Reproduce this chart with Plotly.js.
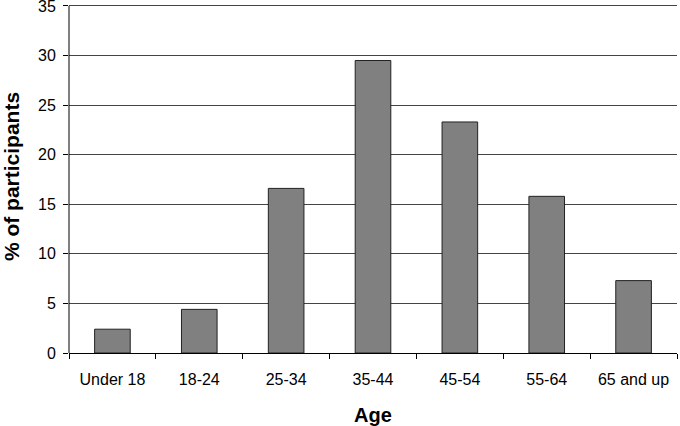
<!DOCTYPE html>
<html><head><meta charset="utf-8">
<script src="https://cdn.plot.ly/plotly-3.0.1.min.js"></script>
<style>body{margin:0;background:#fff}#c{width:680px;height:426px}</style>
</head><body><div id="c"></div>
<script>
const categories = ["Under 18","18-24","25-34","35-44","45-54","55-64","65 and up"];
const percentParticipants = [2.4, 4.4, 16.6, 29.5, 23.3, 15.8, 7.3];
const yTicks = [0,5,10,15,20,25,30,35];

Plotly.newPlot('c', [{
  type: 'bar', x: categories, y: percentParticipants,
  marker: {color: '#808080', line: {color: '#222', width: 1}},
  hoverinfo: 'none'
}], {
  width: 680, height: 426,
  margin: {l: 69, r: 3, t: 0, b: 73},
  paper_bgcolor: '#fff', plot_bgcolor: '#fff',
  bargap: 0.59,
  font: {family: 'Liberation Sans, Arial, sans-serif', color: '#000', size: 16},
  xaxis: {
    title: {text: '<b>Age</b>', font: {size: 20}},
    showline: true, linecolor: '#000', linewidth: 1,
    ticks: 'outside', tickson: 'boundaries', ticklen: 5, tickcolor: '#000',
    ticklabelstandoff: 12,
    showgrid: false
  },
  yaxis: {
    title: {text: '<b>% of participants</b>', font: {size: 21}},
    range: [0, 35.6], autorange: false, tickmode: 'array', tickvals: yTicks,
    ticklabeloverflow: 'allow',
    showline: false,
    ticks: 'outside', ticklen: 5, tickcolor: '#000',
    ticklabelstandoff: 4,
    showgrid: true, gridcolor: '#444', gridwidth: 1,
    zeroline: false
  },
  shapes: [{type: 'line', xref: 'paper', yref: 'y', x0: 0, x1: 0, y0: 0, y1: yTicks[yTicks.length - 1],
            line: {color: '#000', width: 1}}],
  showlegend: false
}, {staticPlot: true});
</script></body></html>
